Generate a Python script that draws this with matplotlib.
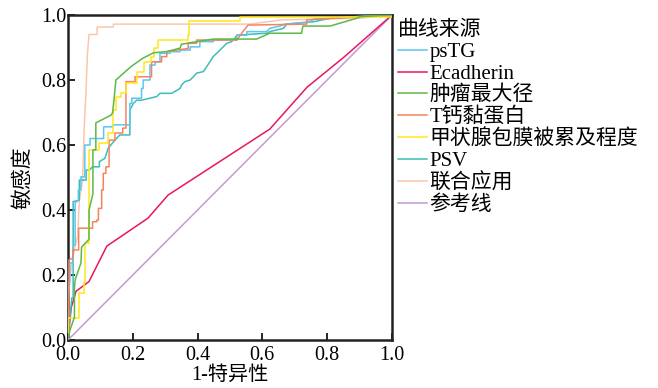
import matplotlib
matplotlib.use("Agg")
import matplotlib.pyplot as plt

plt.rcParams["font.family"] = ["Liberation Serif", "Noto Sans CJK SC", "DejaVu Sans"]

# ROC curve vertices (1-特异性, 敏感度)
pstg_x = [0, 0, 0.006, 0.006, 0.016, 0.016, 0.022, 0.022, 0.032, 0.032, 0.04, 0.04, 0.052, 0.052,
          0.068, 0.068, 0.11, 0.11, 0.138, 0.138, 0.191, 0.191, 0.197, 0.197, 0.227, 0.227, 0.232,
          0.232, 0.253, 0.253, 0.269, 0.269, 0.284, 0.284, 0.315, 0.315, 0.346, 0.346, 0.377, 0.377,
          0.407, 0.407, 0.449, 0.449, 0.521, 0.521, 0.552, 0.552, 0.613, 0.623, 0.654, 0.67, 0.747,
          0.757, 0.891, 1]
pstg_y = [0, 0.12, 0.185, 0.237, 0.237, 0.292, 0.292, 0.421, 0.431, 0.462, 0.462, 0.502, 0.502, 0.60,
          0.60, 0.62, 0.62, 0.656, 0.656, 0.662, 0.662, 0.728, 0.728, 0.744, 0.744, 0.774, 0.774,
          0.80, 0.80, 0.846, 0.846, 0.856, 0.856, 0.882, 0.882, 0.887, 0.887, 0.892, 0.892, 0.902,
          0.902, 0.918, 0.918, 0.923, 0.923, 0.938, 0.938, 0.949, 0.949, 0.959, 0.966, 0.972, 0.979,
          0.987, 0.995, 1]

ecad_x = [0, 0.01, 0.025, 0.065, 0.12, 0.247, 0.309, 0.623, 0.738, 0.849, 1]
ecad_y = [0, 0.10, 0.15, 0.18, 0.289, 0.375, 0.446, 0.649, 0.778, 0.868, 1]

size_x = [0, 0.006, 0.02, 0.02, 0.022, 0.04, 0.042, 0.065, 0.065, 0.077, 0.077, 0.086, 0.086, 0.133,
          0.138, 0.148, 0.194, 0.231, 0.265, 0.302, 0.346, 0.35, 0.397, 0.448, 0.582, 0.623, 0.721,
          0.725, 0.809, 0.891, 0.901, 1]
size_y = [0, 0.03, 0.07, 0.16, 0.185, 0.237, 0.286, 0.31, 0.40, 0.45, 0.585, 0.585, 0.668, 0.692,
          0.70, 0.80, 0.841, 0.867, 0.884, 0.887, 0.898, 0.91, 0.918, 0.926, 0.926, 0.944, 0.944,
          0.966, 0.966, 0.99, 0.995, 1]

tcad_x = [0, 0.003, 0.003, 0.015, 0.015, 0.033, 0.033, 0.076, 0.076, 0.089, 0.089, 0.094, 0.094,
          0.104, 0.104, 0.109, 0.109, 0.117, 0.117, 0.127, 0.127, 0.145, 0.145, 0.169, 0.169, 0.179,
          0.179, 0.207, 0.207, 0.258, 0.258, 0.289, 0.289, 0.305, 0.305, 0.335, 0.371, 0.371, 0.397,
          0.397, 0.521, 0.54, 0.556, 0.737, 0.737, 1]
tcad_y = [0, 0.05, 0.246, 0.252, 0.277, 0.277, 0.344, 0.344, 0.364, 0.364, 0.369, 0.369, 0.405,
          0.405, 0.462, 0.462, 0.513, 0.513, 0.533, 0.533, 0.615, 0.615, 0.637, 0.637, 0.652, 0.652,
          0.795, 0.795, 0.81, 0.81, 0.856, 0.856, 0.872, 0.872, 0.887, 0.892, 0.897, 0.913, 0.913,
          0.923, 0.923, 0.949, 0.969, 0.972, 0.985, 1]

thy_x = [0, 0, 0.034, 0.034, 0.049, 0.049, 0.052, 0.052, 0.065, 0.065, 0.095, 0.095, 0.123, 0.123,
         0.139, 0.139, 0.148, 0.148, 0.164, 0.164, 0.179, 0.179, 0.213, 0.213, 0.235, 0.235, 0.256,
         0.256, 0.265, 0.265, 0.278, 0.278, 0.37, 0.37, 0.375, 0.375, 0.53, 0.53, 1, 1]
thy_y = [0, 0.068, 0.068, 0.145, 0.145, 0.175, 0.175, 0.30, 0.30, 0.585, 0.585, 0.606, 0.606, 0.637,
         0.637, 0.708, 0.708, 0.749, 0.749, 0.76, 0.76, 0.79, 0.79, 0.826, 0.826, 0.856, 0.856,
         0.872, 0.872, 0.898, 0.898, 0.923, 0.923, 0.938, 0.938, 0.982, 0.982, 0.995, 0.995, 1]

psv_x = [0, 0.005, 0.012, 0.016, 0.016, 0.035, 0.035, 0.056, 0.056, 0.066, 0.076, 0.097, 0.097,
         0.114, 0.124, 0.145, 0.16, 0.191, 0.191, 0.202, 0.212, 0.227, 0.274, 0.284, 0.32, 0.346,
         0.351, 0.361, 0.377, 0.387, 0.397, 0.418, 0.428, 0.438, 0.448, 0.459, 0.469, 0.479, 0.49,
         0.505, 0.515, 0.521, 0.613, 0.623, 0.665, 0.675, 0.757, 0.809, 0.891, 1]
psv_y = [0, 0.06, 0.13, 0.13, 0.426, 0.43, 0.492, 0.492, 0.523, 0.523, 0.533, 0.533, 0.549, 0.559,
         0.59, 0.615, 0.631, 0.631, 0.708, 0.728, 0.738, 0.738, 0.749, 0.759, 0.759, 0.774, 0.785,
         0.795, 0.80, 0.81, 0.821, 0.826, 0.841, 0.856, 0.872, 0.882, 0.892, 0.902, 0.913, 0.918,
         0.928, 0.938, 0.944, 0.949, 0.959, 0.972, 0.979, 0.99, 0.995, 1]

comb_x = [0, 0, 0.01, 0.02, 0.03, 0.035, 0.045, 0.05, 0.055, 0.06, 0.065, 0.09, 0.09, 0.14, 0.14,
          0.56, 0.66, 0.9, 1]
comb_y = [0, 0.15, 0.22, 0.28, 0.32, 0.43, 0.49, 0.65, 0.75, 0.88, 0.94, 0.94, 0.963, 0.963, 0.972,
          0.972, 0.985, 0.99, 1]

ref_x = [0, 1]
ref_y = [0, 1]

labels = ["psTG", "Ecadherin", "肿瘤最大径", "T钙黏蛋白", "甲状腺包膜被累及程度", "PSV", "联合应用", "参考线"]
colors = ["#5cc6f0", "#e8175d", "#5cb947", "#f4845f", "#ffe81a", "#3dbdb7", "#fcc6ad", "#c39bd3"]
series = [(pstg_x, pstg_y), (ecad_x, ecad_y), (size_x, size_y), (tcad_x, tcad_y),
          (thy_x, thy_y), (psv_x, psv_y), (comb_x, comb_y), (ref_x, ref_y)]

fig = plt.figure(figsize=(6.58, 3.88), dpi=100)
ax = fig.add_axes([0.1033, 0.1237, 0.4924, 0.8376])

draw_order = [7, 1, 6, 5, 0, 3, 4, 2]
for i in draw_order:
    xs, ys = series[i]
    ax.plot(xs, ys, color=colors[i], lw=1.1, label=labels[i], zorder=3 + draw_order.index(i) * 0.1)

ax.set_xlim(0, 1)
ax.set_ylim(0, 1)
ax.set_xticks([0, 0.2, 0.4, 0.6, 0.8, 1.0])
ax.set_yticks([0, 0.2, 0.4, 0.6, 0.8, 1.0])
ax.set_xticklabels(["0.0", "0.2", "0.4", "0.6", "0.8", "1.0"])
ax.set_yticklabels(["0.0", "0.2", "0.4", "0.6", "0.8", "1.0"])
ax.tick_params(direction="in", length=5, width=1.2, labelsize=14.5, color="black")
ax.tick_params(axis="x", pad=4)
ax.tick_params(axis="y", pad=1)
for s in ax.spines.values():
    s.set_linewidth(1.8)
    s.set_color("#222222")

ax.set_xlabel("1-特异性", fontsize=14.5, labelpad=1)
ax.set_ylabel("敏感度", fontsize=15, labelpad=6)

handles, labs = ax.get_legend_handles_labels()
order = [labs.index(l) for l in labels]
leg = ax.legend([handles[k] for k in order], [labs[k] for k in order],
                title="曲线来源", loc="upper left", bbox_to_anchor=(1.0, 1.0),
                frameon=False, fontsize=15, title_fontsize=15, handlelength=1.4,
                handletextpad=0.1, labelspacing=0.1, borderaxespad=0.2,
                alignment="left", borderpad=0.1)

fig.savefig("out.png", dpi=100)
